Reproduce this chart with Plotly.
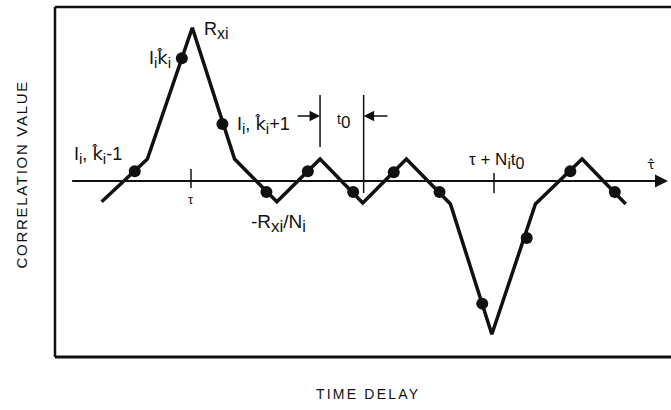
import plotly.graph_objects as go

# Correlation curve (x in units of t0 relative to tau, y in units of R_xi/N_i)
curve_x = [-2.05, -1.0, 0.03, 1.0, 1.97, 2.96, 3.94, 4.94, 5.95, 6.9, 7.9, 8.97, 9.97]
curve_y = [-0.95, 1.0, 7.0, 1.0, -0.95, 1.0, -1.0, 1.0, -1.05, -7.0, -1.05, 1.0, -1.05]

# Sampled correlation values (dots)
sample_x = [-1.29, -0.21, 0.72, 1.73, 2.68, 3.72, 4.65, 5.70, 6.68, 7.70, 8.70, 9.72]
sample_y = [0.45, 5.6, 2.6, -0.5, 0.45, -0.5, 0.4, -0.5, -5.6, -2.6, 0.45, -0.5]

# Tick positions on the tau-hat axis
tick_x = [0.0, 6.95]

# t0 dimension marker positions
t0_left, t0_right = 2.96, 3.96

X_RANGE = [-3.119, 11.009]
Y_RANGE = [-8.037, 7.945]

BLACK = "#111111"
FONT = "Liberation Sans, Arial, Helvetica, sans-serif"


def sub(s, size=15):
    return "<sub><span style='font-size:%dpx'>%s</span></sub>" % (size, s)


def hat(ch):
    return "<span style='font-family:DejaVu Sans'>%s\u0302</span>" % ch


tick_labels = ["τ", "τ + N" + sub("i") + "t" + sub("0", 16)]

fig = go.Figure()

fig.add_trace(go.Scatter(x=curve_x, y=curve_y, mode="lines",
                         line=dict(color=BLACK, width=3.5), hoverinfo="skip",
                         showlegend=False))
fig.add_trace(go.Scatter(x=sample_x, y=sample_y, mode="markers",
                         marker=dict(color=BLACK, size=12), hoverinfo="skip",
                         showlegend=False))

shapes = []
# frame (left, top, bottom; right side runs off the image)
shapes.append(dict(type="line", xref="paper", yref="paper", x0=0, x1=0, y0=0, y1=1,
                   line=dict(color=BLACK, width=2.5)))
shapes.append(dict(type="line", xref="paper", yref="paper", x0=0, x1=1.01, y0=1, y1=1,
                   line=dict(color=BLACK, width=2.5)))
shapes.append(dict(type="line", xref="paper", yref="paper", x0=0, x1=1.01, y0=0, y1=0,
                   line=dict(color=BLACK, width=3)))
# ticks on the tau-hat axis
shapes.append(dict(type="line", x0=tick_x[0], x1=tick_x[0], y0=-0.32, y1=0.55,
                   line=dict(color=BLACK, width=1.5)))
shapes.append(dict(type="line", x0=tick_x[1], x1=tick_x[1], y0=-0.55, y1=0.37,
                   line=dict(color=BLACK, width=1.5)))
# t0 dimension lines
shapes.append(dict(type="line", x0=t0_left, x1=t0_left, y0=1.55, y1=3.93,
                   line=dict(color=BLACK, width=1.5)))
shapes.append(dict(type="line", x0=t0_right, x1=t0_right, y0=-0.55, y1=3.93,
                   line=dict(color=BLACK, width=1.5)))

annotations = []
# tau-hat axis with arrow
annotations.append(dict(x=10.94, y=0, ax=-2.76, ay=0, xref="x", yref="y",
                        axref="x", ayref="y", text="", showarrow=True,
                        arrowhead=2, arrowsize=1.3, arrowwidth=2, arrowcolor=BLACK,
                        standoff=0, startstandoff=0))
# t0 arrows
annotations.append(dict(x=t0_left, y=2.97, ax=2.41, ay=2.97, xref="x", yref="y",
                        axref="x", ayref="y", text="", showarrow=True,
                        arrowhead=2, arrowsize=1.4, arrowwidth=1.5, arrowcolor=BLACK,
                        standoff=0))
annotations.append(dict(x=t0_right, y=2.97, ax=4.54, ay=2.97, xref="x", yref="y",
                        axref="x", ayref="y", text="", showarrow=True,
                        arrowhead=2, arrowsize=1.4, arrowwidth=1.5, arrowcolor=BLACK,
                        standoff=0))


def label(x, y, text, xanchor="center", size=18):
    annotations.append(dict(x=x, y=y, xref="x", yref="y", text=text, showarrow=False,
                            xanchor=xanchor, yanchor="middle",
                            font=dict(family=FONT, size=size, color=BLACK)))


label(0.25, 6.85, "R" + sub("xi", 16), "left")
label(-0.42, 5.55, "I" + sub("i") + hat("k") + sub("i"), "right")
label(1.02, 2.55, "I" + sub("i") + ", " + hat("k") + sub("i") + "+1", "left")
label(-2.73, 1.2, "I" + sub("i") + ", " + hat("k") + sub("i") + "-1", "left")
label(tick_x[0], -0.85, tick_labels[0], "center", 13)
label(2.0, -1.95, "-R" + sub("xi", 17) + "/N" + sub("i", 16), "center", 19)
label(3.49, 2.7, "<span style='font-size:14px'>t</span>" + sub("0", 17), "center")
label(7.0, 0.9, tick_labels[1], "center", 17)
label(10.55, 0.75, hat("τ"), "center", 13)

# axis titles
annotations.append(dict(x=(368 - 55) / 616, y=(357 - 394) / 350, xref="paper", yref="paper",
                        text="TIME DELAY", showarrow=False, xanchor="center", yanchor="middle",
                        font=dict(family=FONT, size=14, color=BLACK)))
annotations.append(dict(x=-(55 - 21) / 616, y=(357 - 175) / 350, xref="paper", yref="paper",
                        text="CORRELATION VALUE", showarrow=False, textangle=-90,
                        xanchor="center", yanchor="middle",
                        font=dict(family=FONT, size=15, color=BLACK)))

fig.update_layout(
    width=671, height=410,
    margin=dict(l=55, r=0, t=7, b=53),
    paper_bgcolor="white", plot_bgcolor="white",
    xaxis=dict(range=X_RANGE, visible=False, fixedrange=True),
    yaxis=dict(range=Y_RANGE, visible=False, fixedrange=True),
    shapes=shapes, annotations=annotations, showlegend=False,
)

post = """
document.body.style.margin = '0';
var gd = document.getElementById('{plot_id}');
function spacing() {
  gd.querySelectorAll('text.annotation-text').forEach(function (t) {
    var s = t.textContent;
    if (s === 'TIME DELAY') { t.style.letterSpacing = '2.2px'; }
    else if (s === 'CORRELATION VALUE') { t.style.letterSpacing = '1.7px'; }
  });
}
spacing();
if (gd.on) { gd.on('plotly_afterplot', spacing); }
"""

fig.write_html("out.html", post_script=post, config={"displayModeBar": False})
